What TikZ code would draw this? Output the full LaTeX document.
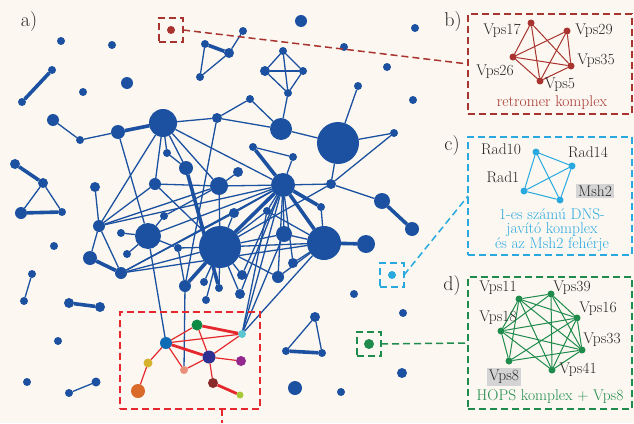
\documentclass[tikz,border=0pt]{standalone}
\usepackage{fontspec}
\definecolor{paper}{HTML}{FCF8F1}
\definecolor{netblue}{HTML}{1B51A0}
\definecolor{retro}{HTML}{A8332F}
\definecolor{dnsc}{HTML}{29A9E0}
\definecolor{hops}{HTML}{1F8B4C}
\definecolor{selred}{HTML}{E5282D}
\definecolor{txtgray}{HTML}{262626}
\tikzset{
	blob/.style={circle, fill=netblue, inner sep=0pt, outer sep=0pt, minimum size=#1},
	link/.style={netblue, line width=1.3pt},
	heavy/.style={netblue, line width=3.6pt},
	rlink/.style={selred, line width=1.2pt},
	rheavy/.style={selred, line width=2.8pt},
	selbox/.style={draw, line width=1.5pt, dash pattern=on 7pt off 4pt, inner sep=0pt, outer sep=0pt, minimum width=#1, minimum height=#1},
	bigbox/.style={draw, line width=1.5pt, dash pattern=on 7pt off 4pt, inner sep=0pt, outer sep=0pt},
	lbl/.style={text=txtgray, font=\fontsize{15.5}{14}\selectfont, inner sep=1pt},
	hl/.style={lbl, fill=black!17, inner sep=2pt},
	panel/.style={text=txtgray, font=\fontsize{20}{20}\selectfont}
}
\begin{document}
\begin{tikzpicture}[x=1pt, y=-1pt]
	\fill[paper] (0,0) rectangle (634,423);
	\useasboundingbox (0,0) rectangle (634,423);

	% panel letters
	\node[panel] (pa) at (29,22) {a)};
	\node[panel] (pb) at (453,22) {b)};
	\node[panel] (pc) at (452,146) {c)};
	\node[panel] (pd) at (452,286) {d)};

	% single proteins
	\foreach \n/\x/\y/\d in {i1/61/41/8pt, i2/112/45/8pt, i3/301/21/12pt,
		i4/127/83/12pt, i5/83/92/8pt, i6/415/28/8pt, i7/344/47/8pt,
		i8/387/67/8pt, i9/413/100/8pt, i10/54/246/8pt, i11/58/341/8pt,
		i12/27/382/8pt, i13/295/388/14pt, i14/354/294/8pt, i15/403/313/8pt,
		i16/402/373/10pt, i17/341/392/8pt}
		\node[blob=\d] (\n) at (\x,\y) {};

	% small groups
	\foreach \n/\x/\y/\d in {p1/52/70/8pt, p2/22/102/8pt,
		t1/243/31/8pt, t2/205/44/8pt, t3/229/53/10pt, t4/200/77/8pt,
		k1/283/51/8pt, k2/265/71/10pt, k3/303/71/8pt, k4/288/93/8pt,
		r1/15/164/10pt, r2/43/183/10pt, r3/21/213/12pt, r4/62/212/8pt,
		q1/32/274/8pt, q2/24/301/8pt, q3/69/303/10pt, q4/100/307/10pt,
		q5/69/393/8pt, q6/96/382/9pt,
		s1/315/317/10pt, s2/286/351/8pt, s3/322/353/8pt}
		\node[blob=\d] (\n) at (\x,\y) {};

	% large component
	\foreach \n/\x/\y/\d in {a2/53/120/12pt, a3/80/140/8pt, a1/118/132/14pt,
		H1/163/123/28pt, b1/217/118/10pt, b2/250/99/8pt, H5/281/129/22pt,
		H6/338/143/42pt, c1/358/86/8pt, c2/394/133/8pt, c3/331/184/10pt,
		c4/382/201/16pt, c5/412/229/14pt, d1/167/153/8pt, d2/186/168/14pt,
		d3/155/184/12pt, d4/219/186/18pt, d5/238/172/10pt, e1/253/147/8pt,
		e2/293/157/8pt, H7/283/185/24pt, f1/321/207/8pt, f2/95/187/10pt,
		g1/99/226/12pt, g2/90/258/14pt, g3/121/273/12pt, H2/148/236/26pt,
		g4/121/233/8pt, g5/127/254/8pt, g6/164/216/8pt, g7/178/248/8pt,
		H3/220/247/42pt, h1/234/213/10pt, h2/267/211/8pt, h3/284/234/16pt,
		H4/324/243/34pt, h4/366/244/18pt, h5/293/263/10pt, h6/242/275/10pt,
		h7/278/277/12pt, h8/240/294/10pt, h9/204/282/8pt, h10/219/288/8pt,
		h11/206/300/8pt, h12/185/286/12pt}
		\node[blob=\d] (\n) at (\x,\y) {};

	% selected part
	\node[blob=12pt, fill={rgb,255:red,13;green,106;blue,181}] (cb) at (166,343) {};
	\node[blob=11pt, fill={rgb,255:red,12;green,138;blue,70}] (cg) at (197,325) {};
	\node[blob=8pt, fill={rgb,255:red,91;green,197;blue,208}] (cc) at (242,334) {};
	\node[blob=13pt, fill={rgb,255:red,46;green,49;blue,146}] (cn) at (209,357) {};
	\node[blob=10pt, fill={rgb,255:red,147;green,40;blue,142}] (cp) at (241,361) {};
	\node[blob=9pt, fill={rgb,255:red,214;green,178;blue,46}] (cy) at (148,363) {};
	\node[blob=8pt, fill={rgb,255:red,232;green,144;blue,122}] (cs) at (184,370) {};
	\node[blob=10pt, fill={rgb,255:red,138;green,43;blue,43}] (cd) at (213,383) {};
	\node[blob=14pt, fill={rgb,255:red,217;green,106;blue,42}] (co) at (138,391) {};
	\node[blob=7pt, fill={rgb,255:red,168;green,200;blue,58}] (cl) at (240,395) {};

	% edges
	\foreach \a/\b in {t1/t3, t2/t4, t4/t3, k1/k2, k1/k3, k1/k4, k2/k3, k2/k4,
		k3/k4, k4/H5, r2/r3, r2/r4, q1/q2, q5/q6, s1/s2, s1/s3,
		a2/a3, a3/a1, H1/b1, b1/b2, b2/H5, b1/H5, H5/H6, c1/H6, H6/c2, c2/c3,
		H6/c3, c3/c4, c3/H7, c3/H3, H1/d1, H1/d2, H1/d3, H1/d4, H1/H7, H1/g1,
		d1/d2, d5/d4, d3/d4, d3/g1, d3/H3, d4/H7, d4/H3, b1/h12, e1/e2, e2/H7,
		f2/g1, g1/g2, g1/g3, g1/H7, g1/d4, g3/H3, g3/H7, g3/h1, g3/H4,
		a1/H2, H2/g4, H2/g5, H2/g6, H2/g7, H2/H7, g6/d4, g7/H3, g7/h12,
		H3/h1, H3/h2, H3/h6, H3/h8, H3/h9, H3/h10, H3/h11, H3/h3, H3/H4,
		H3/h7, H7/h1, H7/h2, H7/h3, H7/h5, H7/h7, H7/h6, H7/h8, H4/h3,
		H4/h5, H4/h7, H4/f1, H4/h2, cb/H2, cs/h12, cc/H7, cc/h2, cc/H4, cc/h3}
		\draw[link] (\a) -- (\b);
	\foreach \a/\b in {p1/p2, t2/t3, r1/r2, r3/r4, q3/q4, s2/s3, a1/H1,
		c4/c5, H3/h12, H3/H7, H7/H4, H7/f1, H7/e1, H4/h4, g2/g3, d2/h10}
		\draw[heavy] (\a) -- (\b);
	\foreach \a/\b in {cb/cg, cb/cc, cb/cs, cb/cy, cy/co, cg/cn, cc/cn,
		cn/cp, cn/cs, cn/cd}
		\draw[rlink] (\a) -- (\b);
	\foreach \a/\b in {cb/cn, cg/cc, cd/cl}
		\draw[rheavy] (\a) -- (\b);

	% selection boxes
	\node[bigbox, selred, minimum width=140pt, minimum height=97pt] (selmain) at (190,360.5) {};
	\coordinate (stub) at (222,423);
	\draw[selred, line width=1.5pt, dash pattern=on 7pt off 4pt] (selmain.south -| stub) -- (stub);
	\node[selbox=24pt, retro] (rsel) at (171,30) {};
	\node[blob=8pt, fill=retro] (rdot) at (171,30) {};
	\node[selbox=24pt, dnsc] (csel) at (392,275) {};
	\node[blob=8pt, fill=dnsc] (cdot) at (392,275) {};
	\node[selbox=24pt, hops] (gsel) at (369,344) {};
	\node[blob=10pt, fill=hops] (gdot) at (369,344) {};

	% b) retromer
	\node[bigbox, retro, minimum width=164pt, minimum height=100pt] (bbox) at (550,64) {};
	\draw[retro, line width=1.5pt, dash pattern=on 7pt off 4pt] (rsel.east) -- (bbox.west);
	\foreach \n/\x/\y in {v17/531/23, v29/567/31, v26/513/57, v35/571/66, v5/540/81}
		\node[blob=7pt, fill=retro] (\n) at (\x,\y) {};
	\foreach \a/\b in {v17/v26, v17/v35, v17/v5, v29/v26, v29/v35, v29/v5,
		v26/v35, v26/v5, v35/v5}
		\draw[retro, line width=1pt] (\a) -- (\b);
	\node[lbl] (lv17) at (502,31) {Vps17};
	\node[lbl] (lv29) at (594,31) {Vps29};
	\node[lbl] (lv26) at (495,72) {Vps26};
	\node[lbl] (lv35) at (596,61) {Vps35};
	\node[lbl] (lv5) at (560,85) {Vps5};
	\node[lbl, text=retro] (lretro) at (552,103) {retromer komplex};

	% c) DNS javito komplex
	\node[bigbox, dnsc, minimum width=164pt, minimum height=118pt] (cbox) at (550,196) {};
	\draw[dnsc, line width=1.5pt, dash pattern=on 7pt off 4pt] (csel.east) -- (cbox.west);
	\foreach \n/\x/\y in {rad10/536/152, rad14/572/166, rad1/524/191, msh/560/200}
		\node[blob=7pt, fill=dnsc] (\n) at (\x,\y) {};
	\foreach \a/\b in {rad10/rad14, rad10/rad1, rad10/msh, rad14/rad1, rad14/msh, rad1/msh}
		\draw[dnsc, line width=1pt] (\a) -- (\b);
	\node[lbl] (lrad10) at (501,149) {Rad10};
	\node[lbl] (lrad14) at (588,152) {Rad14};
	\node[lbl] (lrad1) at (503,177) {Rad1};
	\node[hl] (lmsh) at (595,191) {Msh2};
	\node[lbl, text=dnsc, align=center] (ldns) at (552,230) {1-es számú DNS-\\javító komplex\\és az Msh2 fehérje};

	% d) HOPS komplex
	\node[bigbox, hops, minimum width=164pt, minimum height=132pt] (dbox) at (550,343) {};
	\draw[hops, line width=1.5pt, dash pattern=on 7pt off 4pt] (gsel.east) -- (dbox.west);
	\foreach \n/\x/\y in {w11/519/299, w39/551/294, w16/577/318, w18/501/331,
		w33/582/350, w8/509/361, w41/552/370}
		\node[blob=7pt, fill=hops] (\n) at (\x,\y) {};
	\foreach \a/\b in {w11/w39, w11/w16, w11/w18, w11/w33, w11/w41, w39/w16,
		w39/w18, w39/w33, w39/w41, w16/w18, w16/w33, w16/w41, w18/w33,
		w18/w41, w33/w41, w8/w11, w8/w18, w8/w16, w8/w33}
		\draw[hops, line width=1pt] (\a) -- (\b);
	\node[lbl] (lw11) at (498,288) {Vps11};
	\node[lbl] (lw39) at (572,288) {Vps39};
	\node[lbl] (lw16) at (598,309) {Vps16};
	\node[lbl] (lw18) at (498,318) {Vps18};
	\node[lbl] (lw33) at (602,340) {Vps33};
	\node[hl] (lw8) at (504,377) {Vps8};
	\node[lbl] (lw41) at (578,370) {Vps41};
	\node[lbl, text=hops] (lhops) at (550,397) {HOPS komplex + Vps8};
\end{tikzpicture}
\end{document}
